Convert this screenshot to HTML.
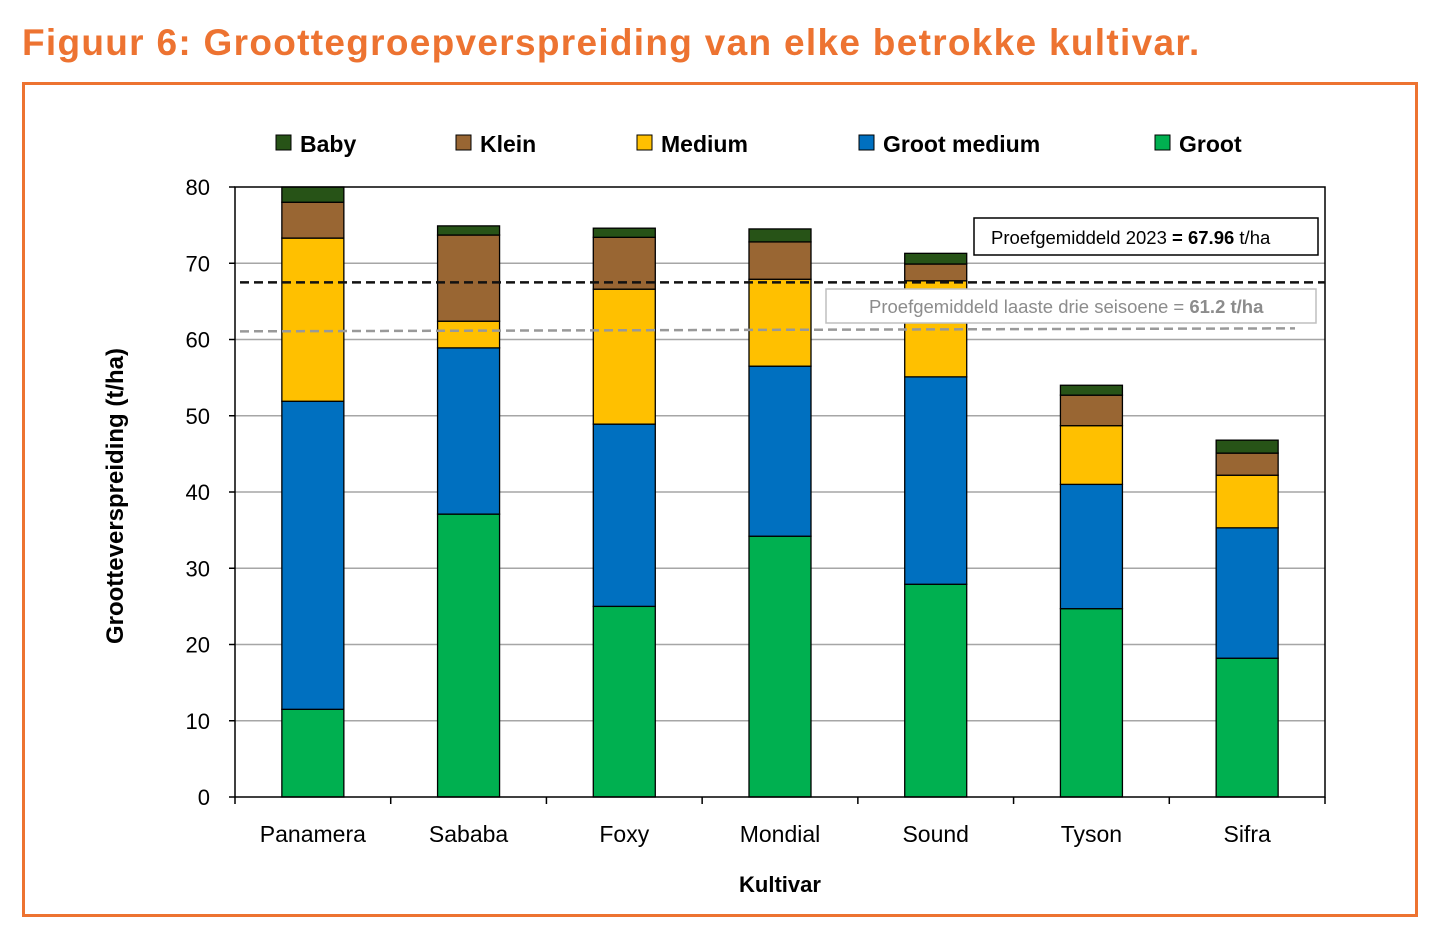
<!DOCTYPE html>
<html><head><meta charset="utf-8"><style>
body{margin:0;background:#fff;width:1442px;height:951px;overflow:hidden;font-family:"Liberation Sans",sans-serif}
</style></head><body>
<div style="position:absolute;left:22px;top:22px;font-size:37px;font-weight:bold;color:#ED7331;letter-spacing:1.3px">Figuur 6: Groottegroepverspreiding van elke betrokke kultivar.</div>
<div style="position:absolute;left:22px;top:82px;width:1390px;height:829px;border:3px solid #ED7331"></div>
<svg id="chart" width="1442" height="951" style="position:absolute;left:0;top:0" font-family="Liberation Sans, sans-serif"></svg>
<script>
const categories=["Panamera","Sababa","Foxy","Mondial","Sound","Tyson","Sifra"];
const groot=[11.5,37.1,25.0,34.2,27.9,24.7,18.2];
const grootMedium=[40.4,21.8,23.9,22.3,27.2,16.3,17.1];
const medium=[21.4,3.5,17.7,11.4,12.6,7.7,6.9];
const klein=[4.7,11.3,6.8,4.9,2.2,4.0,2.9];
const baby=[2.0,1.2,1.2,1.7,1.4,1.3,1.7];
const yTicks=[0,10,20,30,40,50,60,70,80];
const mean2023=67.5;
const mean3yr=61.2;
const seriesNames=["Groot","Groot medium","Medium","Klein","Baby"];
const seriesColors=["#00B050","#0070C0","#FFC000","#996633","#275317"];
const series=[groot,grootMedium,medium,klein,baby];
const NS="http://www.w3.org/2000/svg";
const svg=document.getElementById('chart');
const x0=235,x1=1325,yB=797,yT=187;
const y=v=>yB-(v/80)*(yB-yT);
const band=(x1-x0)/categories.length;
const cx=i=>x0+band*(i+0.5);
function mk(t,a){const e=document.createElementNS(NS,t);for(const k in a)e.setAttribute(k,a[k]);svg.appendChild(e);return e;}
yTicks.forEach(v=>{
  if(v>0&&v<80){const g=mk('line',{x1:x0,x2:x1,y1:y(v),y2:y(v),stroke:'#a6a6a6','stroke-width':1.5});
  
  }
  const t=mk('text',{x:210,y:y(v)+8,'text-anchor':'end','font-size':22,fill:'#000'});t.textContent=v;
  
  
  const tk=mk('line',{x1:x0-6,x2:x0,y1:y(v),y2:y(v),stroke:'#000','stroke-width':1.5});
  
  
});
categories.forEach((c,i)=>{
  let acc=0;
  series.forEach((s,k)=>{
    const r=mk('rect',{x:cx(i)-31,y:y(acc+s[i]),width:62,height:y(acc)-y(acc+s[i]),fill:seriesColors[k],stroke:'#000','stroke-width':1.3});
    
    
    acc+=s[i];
  });
  const t=mk('text',{x:cx(i),y:842,'text-anchor':'middle','font-size':23,fill:'#000'});t.textContent=c;
  
  
});
for(let i=0;i<=categories.length;i++){const tk=mk('line',{x1:x0+band*i,x2:x0+band*i,y1:yB,y2:yB+7,stroke:'#000','stroke-width':1.5});
  
  }
const ax=mk('rect',{x:x0,y:yT,width:x1-x0,height:yB-yT,fill:'none',stroke:'#000','stroke-width':1.5});


const l1=mk('line',{x1:x0+5,x2:x1,y1:y(mean2023),y2:y(mean2023),stroke:'#111','stroke-width':2.5,'stroke-dasharray':'9,5'});


const l2=mk('line',{x1:x0+5,x2:1295,y1:y(mean3yr)+1,y2:y(mean3yr)-2,stroke:'#999','stroke-width':2.5,'stroke-dasharray':'9,5'});


const b1=mk('rect',{x:974,y:218,width:344,height:37,fill:'#fff',stroke:'#000','stroke-width':1.5});


const t1=mk('text',{x:991,y:244,'font-size':18.5,fill:'#000'});
t1.innerHTML='Proefgemiddeld 2023 <tspan font-weight="bold">= 67.96</tspan> t/ha';


const b2=mk('rect',{x:826,y:289,width:490,height:34,fill:'#fff',stroke:'#bfbfbf','stroke-width':1.5});


const t2=mk('text',{x:869,y:313,'font-size':18.5,fill:'#8c8c8c'});
t2.innerHTML='Proefgemiddeld laaste drie seisoene = <tspan font-weight="bold">61.2 t/ha</tspan>';


const legX=[276,456,637,859,1155];
const legOrder=[4,3,2,1,0];
legOrder.forEach((k,j)=>{
  const r=mk('rect',{x:legX[j],y:135,width:15,height:15,fill:seriesColors[k],stroke:'#000','stroke-width':1});
  
  
  const t=mk('text',{x:legX[j]+24,y:152,'font-size':23,'font-weight':'bold',fill:'#000'});t.textContent=seriesNames[k];
  
  
});
const yt=mk('text',{transform:'translate(123,496) rotate(-90)','text-anchor':'middle','font-size':24,'font-weight':'bold',fill:'#000'});
yt.textContent='Grootteverspreiding (t/ha)';


const xt=mk('text',{x:780,y:892,'text-anchor':'middle','font-size':22,'font-weight':'bold',fill:'#000'});
xt.textContent='Kultivar';


</script>
</body></html>
